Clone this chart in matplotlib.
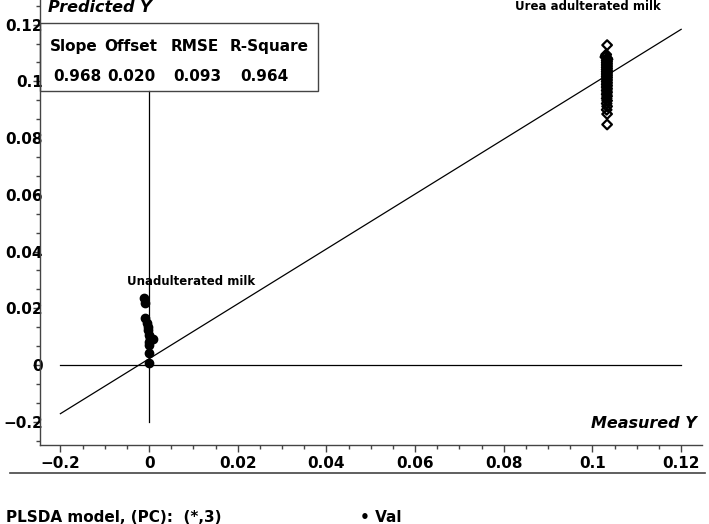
import matplotlib
matplotlib.use("Agg")
import matplotlib.pyplot as plt
import matplotlib.patches as patches
from matplotlib.ticker import MultipleLocator

plt.rcParams['font.family'] = ['DejaVu Sans']

# Axis ticks (the original labels -0.02 as "-0.2")
tick_vals = [-0.02, 0, 0.02, 0.04, 0.06, 0.08, 0.1, 0.12]
tick_labels = ["\u22120.2", "0", "0.02", "0.04", "0.06", "0.08", "0.1", "0.12"]

# Unadulterated milk samples (measured, predicted)
unadult_x = [-0.0012, -0.0009, -0.0009, -0.0005, -0.0003, -0.0002, 0.0, 0.0002, 0.0008, 0.0, 0.0, 0.0, 0.0]
unadult_y = [0.0237, 0.0218, 0.0165, 0.0147, 0.0135, 0.0123, 0.0106, 0.0094, 0.0091, 0.0082, 0.0071, 0.0041, 0.0008]

# Urea adulterated milk samples
urea_x = [0.1033, 0.1031, 0.1030, 0.1029, 0.1033, 0.1034, 0.1032, 0.1033, 0.1032, 0.1033,
          0.1032, 0.1033, 0.1032, 0.1033, 0.1032, 0.1033, 0.1032, 0.1033, 0.1032, 0.1033,
          0.1032, 0.1033, 0.1032, 0.1033, 0.1032, 0.1033, 0.1032, 0.1033, 0.1032, 0.1033,
          0.1032, 0.1033, 0.1032, 0.1033, 0.1032, 0.1033, 0.1032, 0.1033, 0.1032, 0.1033,
          0.1033]
urea_y = [0.1128, 0.1095, 0.1090, 0.1086, 0.1082, 0.1078, 0.1074, 0.1070, 0.1066, 0.1062,
          0.1058, 0.1054, 0.1050, 0.1046, 0.1042, 0.1038, 0.1034, 0.1030, 0.1026, 0.1022,
          0.1018, 0.1014, 0.1010, 0.1005, 0.1000, 0.0995, 0.0990, 0.0985, 0.0980, 0.0974,
          0.0968, 0.0962, 0.0955, 0.0948, 0.0940, 0.0932, 0.0922, 0.0912, 0.0900, 0.0885,
          0.0848]

# Regression statistics
stat_names = ["Slope", "Offset", "RMSE", "R-Square"]
stat_values = ["0.968", "0.020", "0.093", "0.964"]
slope, offset = 0.968, 0.0022

fig = plt.figure(figsize=(7.09, 5.24), dpi=100)
ax = fig.add_axes([40 / 709, 79 / 524, 662 / 709, 445 / 524])
ax.set_xlim(-0.0246, 0.1247)
ax.set_ylim(-0.0282, 0.1287)

for s in ["top", "right"]:
    ax.spines[s].set_visible(False)
for s in ["left", "bottom"]:
    ax.spines[s].set_linewidth(1.0)
    ax.spines[s].set_color("#444444")

ax.set_xticks(tick_vals)
ax.set_xticklabels(tick_labels)
ax.set_yticks(tick_vals)
ax.set_yticklabels(tick_labels)
ax.xaxis.set_minor_locator(MultipleLocator(0.005))
ax.yaxis.set_minor_locator(MultipleLocator(0.02 / 3))
ax.tick_params(axis="both", which="major", labelsize=11, width=1, length=5, color="#444444")
ax.tick_params(axis="both", which="minor", width=1, length=3, color="#444444")
ax.tick_params(axis="x", which="major", pad=3)
ax.tick_params(axis="y", which="major", pad=-7)
for lab in ax.get_xticklabels() + ax.get_yticklabels():
    lab.set_fontweight("bold")

# reference lines
ax.plot([-0.02, 0.12], [0, 0], color="black", lw=0.9)
ax.plot([0, 0], [-0.02, 0.0966], color="black", lw=0.9)
ax.plot([-0.02, 0.12], [offset + slope * -0.02, offset + slope * 0.12], color="black", lw=0.9)

# samples
ax.scatter(unadult_x, unadult_y, s=36, color="black", zorder=3)
ax.scatter(urea_x, urea_y, s=24, marker="D", facecolors="none", edgecolors="black",
           linewidths=1.6, zorder=3)

ax.text(0.0095, 0.0296, "Unadulterated milk", fontsize=8.5, fontweight="bold", ha="center", va="center")
ax.text(0.0990, 0.1265, "Urea adulterated milk", fontsize=8.5, fontweight="bold", ha="center",
        va="center", clip_on=False)

# stats box
box = patches.Rectangle((-0.0246, 0.0966), 0.0627, 0.0240, fill=False, edgecolor="#444444",
                        lw=1.0, clip_on=False, zorder=4)
ax.add_patch(box)
name_x = [-0.0171, -0.0041, 0.0104, 0.0271]
val_x = [-0.0162, -0.0041, 0.0108, 0.0259]
for nx, vx, n, v in zip(name_x, val_x, stat_names, stat_values):
    ax.text(nx, 0.1122, n, fontsize=11, fontweight="bold", ha="center", va="center")
    ax.text(vx, 0.1016, v, fontsize=11, fontweight="bold", ha="center", va="center")

# axis titles
fig.text(48 / 709, 1 - 7 / 524, "Predicted Y", fontsize=11.5, fontweight="bold", style="italic",
         ha="left", va="center")
fig.text(697 / 709, 1 - 423 / 524, "Measured Y", fontsize=11.5, fontweight="bold", style="italic",
         ha="right", va="center")

# footer
fig.add_artist(plt.Line2D([10 / 709, 705 / 709], [1 - 473 / 524, 1 - 473 / 524], color="#444444", lw=1.2))
fig.text(6 / 709, 1 - 517 / 524, "PLSDA model, (PC):  (*,3)", fontsize=11, fontweight="bold",
         ha="left", va="center")
fig.text(360 / 709, 1 - 517 / 524, "\u2022 Val", fontsize=11, fontweight="bold", ha="left", va="center")

fig.savefig("out.png", dpi=100)
